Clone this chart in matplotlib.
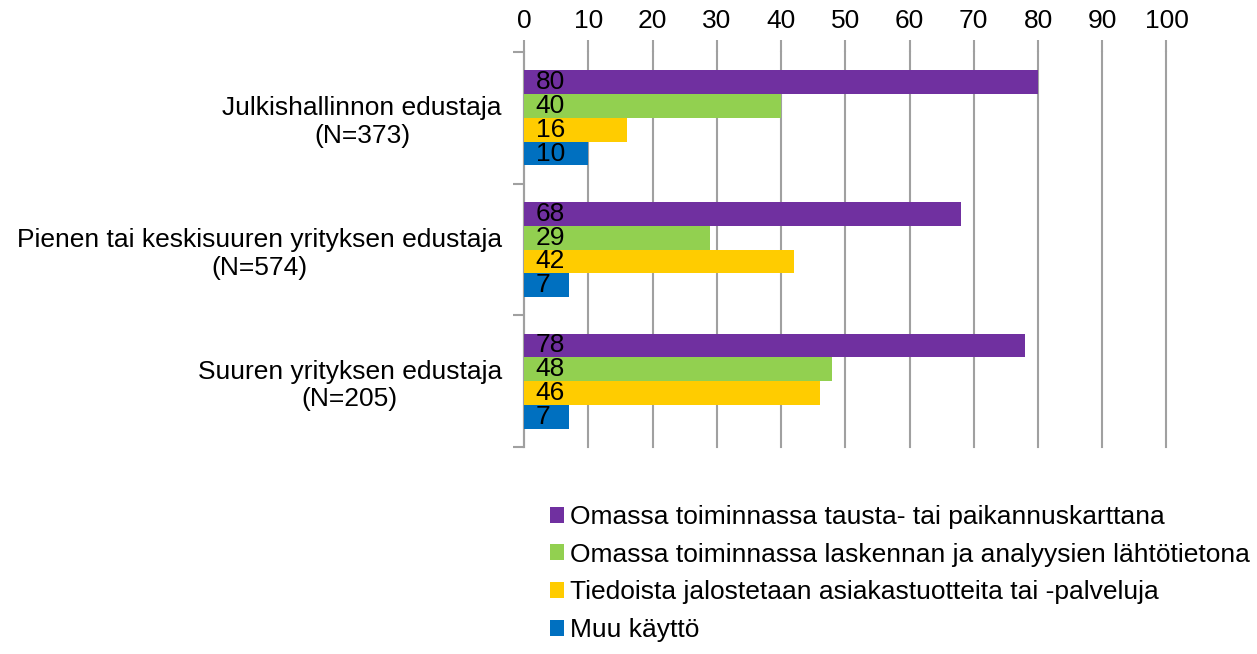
import numpy as np
import matplotlib.pyplot as plt

plt.rcParams['font.family'] = ['Liberation Sans', 'DejaVu Sans']

# Data
groups = ["Julkishallinnon edustaja\n(N=373)",
          "Pienen tai keskisuuren yrityksen edustaja\n(N=574)",
          "Suuren yrityksen edustaja\n(N=205)"]
series = ["Omassa toiminnassa tausta- tai paikannuskarttana",
          "Omassa toiminnassa laskennan ja analyysien lähtötietona",
          "Tiedoista jalostetaan asiakastuotteita tai -palveluja",
          "Muu käyttö"]
tausta = [80, 68, 78]
laskenta = [40, 29, 48]
jalostus = [16, 42, 46]
muu = [10, 7, 7]
colors = ["#7030A0", "#92D050", "#FFCC00", "#0070C0"]

values = [tausta, laskenta, jalostus, muu]

fig = plt.figure(figsize=(12.57, 6.54), dpi=100)
ax = fig.add_axes([0.417, 0.3165, 0.511, 0.604])

h = 0.181
y = np.arange(len(groups))
bars = []
for i, (vals, c, name) in enumerate(zip(values, colors, series)):
    pos = y - 1.5 * h + i * h
    b = ax.barh(pos, vals, height=h, color=c, label=name, zorder=3)
    bars.append(b)
    for p, v in zip(pos, vals):
        ax.text(1.8, p, str(v), va="center", ha="left", fontsize=19,
                color="black", zorder=4)

ax.set_xlim(0, 100)
ax.set_ylim(len(groups) - 0.5, -0.5)
ax.set_xticks(range(0, 101, 10))
ax.xaxis.tick_top()
ax.tick_params(axis="x", length=9, color="#A0A0A0", width=1.5,
               labelsize=19, pad=5)
ax.grid(axis="x", color="#A0A0A0", linewidth=1.5, zorder=0)
for gl in ax.get_xgridlines():
    gl.set_clip_on(False)

ax.set_yticks(y)
ax.set_yticklabels(groups, fontsize=19, multialignment="center")
ax.tick_params(axis="y", which="major", length=0, pad=16)
ax.set_yticks(np.arange(-0.5, len(groups), 1), minor=True)
ax.tick_params(axis="y", which="minor", length=8, color="#A0A0A0", width=1.5)

for s in ["top", "right", "bottom"]:
    ax.spines[s].set_visible(False)
ax.spines["left"].set_color("#A0A0A0")
ax.spines["left"].set_linewidth(1.5)

fig.legend(handles=bars, labels=series, loc="upper left",
           bbox_to_anchor=(0.4375, 0.228), frameon=False, fontsize=19,
           handlelength=0.55, handleheight=0.55, handletextpad=0.2,
           labelspacing=0.52, borderaxespad=0, borderpad=0)

fig.savefig("out.png", dpi=100)
